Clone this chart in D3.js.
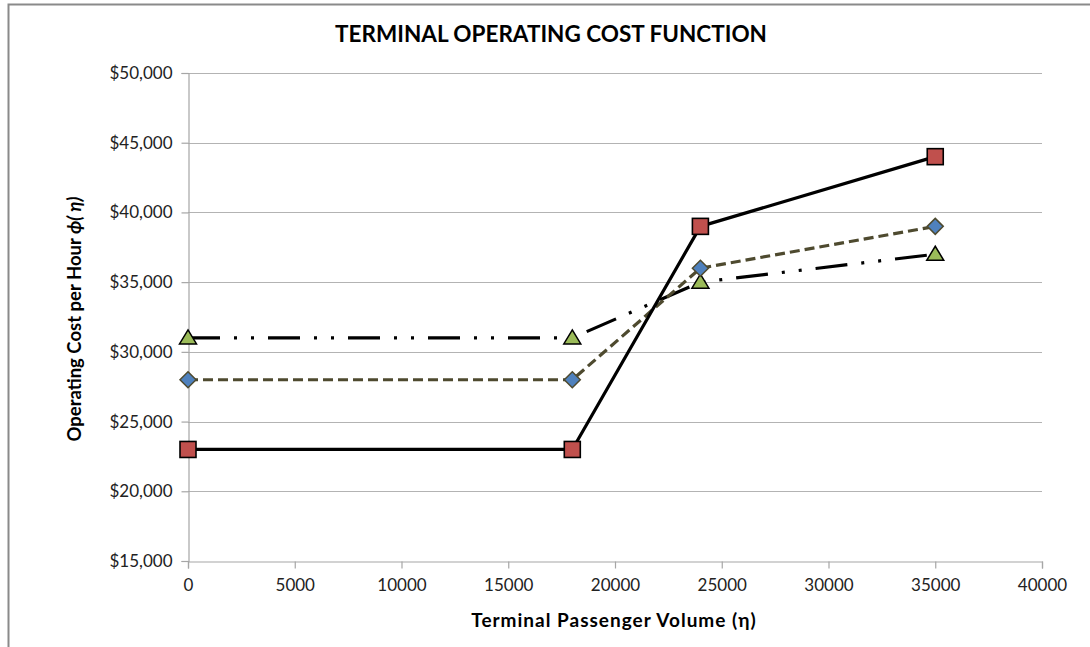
<!DOCTYPE html>
<html>
<head>
<meta charset="utf-8">
<script src="https://cdn.jsdelivr.net/npm/d3@7"></script>
<style>
  html, body { margin: 0; padding: 0; background: #fff; }
  svg { display: block; }
  text { font-family: Lato, "Open Sans", sans-serif; }
</style>
</head>
<body>
<svg id="chart" width="1090" height="647"></svg>
<script>
// Terminal passenger volume (η) at each breakpoint
const volumes = [0, 18000, 24000, 35000];
// Operating cost per hour for each scenario
const costHigh = [23000, 23000, 39000, 44000];   // squares, solid line
const costMid  = [28000, 28000, 36000, 39000];   // diamonds, dashed line
const costLow  = [31000, 31000, 35000, 37000];   // triangles, dash-dot-dot line
const xTicks = [0, 5000, 10000, 15000, 20000, 25000, 30000, 35000, 40000];
const yTicks = [15000, 20000, 25000, 30000, 35000, 40000, 45000, 50000];

const svg = d3.select("#chart");
const plot = { left: 188, right: 1042, top: 73, bottom: 561 };

// Outer chart frame (top and left edges visible)
svg.append("path")
  .attr("d", "M8.5,647 L8.5,4.5 L1090,4.5")
  .attr("fill", "none").attr("stroke", "#8a8a8a").attr("stroke-width", 2);

const x = d3.scaleLinear().domain([0, 40000]).range([plot.left, plot.right]);
const y = d3.scaleLinear().domain([15000, 50000]).range([plot.bottom, plot.top]);

// Horizontal gridlines
svg.append("g").selectAll("line").data(yTicks.filter(d => d > 15000)).join("line")
  .attr("x1", plot.left).attr("x2", plot.right)
  .attr("y1", d => Math.round(y(d)) + 0.5).attr("y2", d => Math.round(y(d)) + 0.5)
  .attr("stroke", "#b3b3b3").attr("stroke-width", 1.2);

// Y axis
const yAxis = svg.append("g")
  .attr("transform", `translate(${plot.left + 0.5},0)`)
  .call(d3.axisLeft(y).tickValues(yTicks).tickSize(7).tickPadding(9)
    .tickFormat(d => "$" + d3.format(",")(d)));
yAxis.select(".domain").attr("stroke", "#a6a6a6").attr("stroke-width", 1.2);
yAxis.selectAll(".tick line").attr("stroke", "#a6a6a6").attr("stroke-width", 1.2);
yAxis.selectAll(".tick text").attr("font-size", 17).attr("fill", "#222")
  .attr("font-family", "Lato, sans-serif");

// X axis
const xAxis = svg.append("g")
  .attr("transform", `translate(0,${plot.bottom + 0.5})`)
  .call(d3.axisBottom(x).tickValues(xTicks).tickSize(7).tickPadding(10)
    .tickFormat(d3.format("d")));
xAxis.select(".domain").attr("stroke", "#a6a6a6").attr("stroke-width", 1.2);
xAxis.selectAll(".tick line").attr("stroke", "#a6a6a6").attr("stroke-width", 1.2);
xAxis.selectAll(".tick text").attr("font-size", 17).attr("fill", "#222")
  .attr("font-family", "Lato, sans-serif");

// Series definitions
const series = [
  { values: costLow,  stroke: "#000", dash: "32,14,3,14,3,14", width: 3.2, marker: "triangle" },
  { values: costMid,  stroke: "#4e4a2f", dash: "10,5", width: 3.2, marker: "diamond" },
  { values: costHigh, stroke: "#000", dash: null, width: 3.2, marker: "square" }
];

const line = d3.line().x(d => x(d[0])).y(d => y(d[1]));

series.forEach(s => {
  const pts = volumes.map((v, i) => [v, s.values[i]]);
  svg.append("path").datum(pts)
    .attr("d", line)
    .attr("fill", "none")
    .attr("stroke", s.stroke)
    .attr("stroke-width", s.width)
    .attr("stroke-dasharray", s.dash)
    .attr("stroke-linejoin", "round");
});

// Markers drawn above all lines
series.forEach(s => {
  const pts = volumes.map((v, i) => [v, s.values[i]]);
  const g = svg.append("g");
  if (s.marker === "square") {
    g.selectAll("rect").data(pts).join("rect")
      .attr("x", d => x(d[0]) - 8).attr("y", d => y(d[1]) - 8)
      .attr("width", 16).attr("height", 16)
      .attr("fill", "#c0504d").attr("stroke", "#000").attr("stroke-width", 1.6);
  } else if (s.marker === "diamond") {
    g.selectAll("path").data(pts).join("path")
      .attr("d", d => {
        const cx = x(d[0]), cy = y(d[1]), r = 8;
        return `M${cx},${cy - r}L${cx + r},${cy}L${cx},${cy + r}L${cx - r},${cy}Z`;
      })
      .attr("fill", "#4f81bd").attr("stroke", "#4e4a2f").attr("stroke-width", 1.5);
  } else {
    g.selectAll("path").data(pts).join("path")
      .attr("d", d => {
        const cx = x(d[0]), cy = y(d[1]);
        return `M${cx},${cy - 8}L${cx + 8.5},${cy + 6}L${cx - 8.5},${cy + 6}Z`;
      })
      .attr("fill", "#9bbb59").attr("stroke", "#000").attr("stroke-width", 1.5);
  }
});

// Title
svg.append("text")
  .attr("x", 551).attr("y", 42)
  .attr("text-anchor", "middle")
  .attr("font-size", 22.5).attr("font-weight", "bold").attr("fill", "#000")
  .text("TERMINAL OPERATING COST FUNCTION");

// X axis title
svg.append("text")
  .attr("x", 614).attr("y", 627)
  .attr("text-anchor", "middle")
  .attr("font-size", 19).attr("letter-spacing", 1).attr("font-weight", "bold").attr("fill", "#000")
  .text("Terminal Passenger Volume (η)");

// Y axis title
const yt = svg.append("text")
  .attr("transform", "translate(81,319) rotate(-90)")
  .attr("text-anchor", "middle")
  .attr("font-size", 18.5).attr("font-weight", "bold").attr("fill", "#000");
yt.append("tspan").text("Operating Cost per Hour ");
yt.append("tspan").attr("font-style", "italic").text("ϕ(");
yt.append("tspan").attr("font-style", "italic").text(" η)");
</script>
</body>
</html>
